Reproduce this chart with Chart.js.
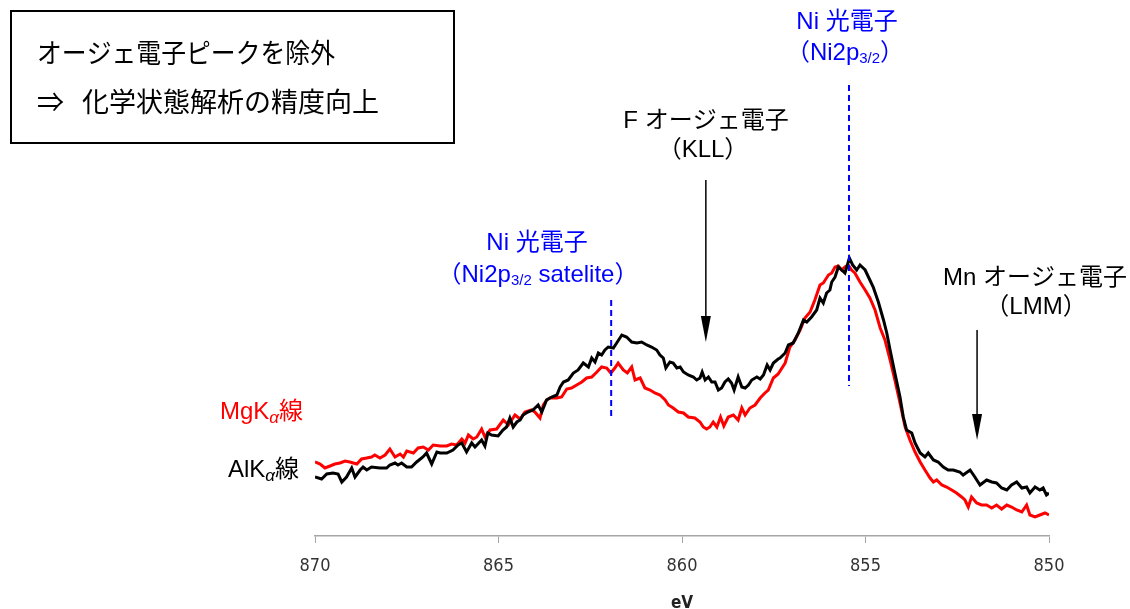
<!DOCTYPE html>
<html>
<head>
<meta charset="utf-8">
<script src="https://cdn.jsdelivr.net/npm/chart.js@4"></script>
<style>
  html, body { margin: 0; padding: 0; background: #fff; }
  #wrap { width: 1130px; height: 609px; }
</style>
</head>
<body>
<div id="wrap"><canvas id="myChart" width="1130" height="609"></canvas></div>
<script>
// spectra (binding energy eV / intensity a.u.)
const alkEnergy = [870.00, 869.82, 869.68, 869.51, 869.37, 869.27, 869.14, 869.00, 868.91, 868.77, 868.69, 868.59, 868.46, 868.23, 868.05, 867.96, 867.82, 867.74, 867.64, 867.50, 867.37, 867.23, 867.06, 866.96, 866.82, 866.68, 866.59, 866.41, 866.24, 866.10, 866.00, 865.87, 865.73, 865.64, 865.46, 865.37, 865.29, 865.19, 865.01, 864.88, 864.78, 864.69, 864.60, 864.50, 864.41, 864.33, 864.20, 864.06, 863.92, 863.82, 863.69, 863.55, 863.41, 863.32, 863.23, 863.10, 862.96, 862.83, 862.69, 862.55, 862.46, 862.37, 862.28, 862.19, 862.10, 862.01, 861.87, 861.78, 861.64, 861.51, 861.37, 861.23, 861.10, 860.96, 860.83, 860.69, 860.60, 860.51, 860.44, 860.33, 860.24, 860.14, 860.05, 859.96, 859.83, 859.69, 859.60, 859.51, 859.45, 859.37, 859.28, 859.19, 859.10, 859.01, 858.92, 858.83, 858.74, 858.65, 858.58, 858.47, 858.37, 858.28, 858.19, 858.10, 857.96, 857.87, 857.78, 857.68, 857.60, 857.51, 857.38, 857.33, 857.19, 857.10, 856.97, 856.83, 856.69, 856.60, 856.47, 856.33, 856.24, 856.15, 856.06, 855.97, 855.92, 855.83, 855.74, 855.65, 855.56, 855.51, 855.44, 855.35, 855.24, 855.15, 855.01, 854.92, 854.79, 854.65, 854.51, 854.42, 854.33, 854.20, 854.06, 853.97, 853.88, 853.74, 853.65, 853.51, 853.38, 853.29, 853.15, 853.02, 852.88, 852.75, 852.61, 852.43, 852.34, 852.15, 852.02, 851.88, 851.70, 851.56, 851.43, 851.29, 851.15, 851.02, 850.88, 850.74, 850.61, 850.52, 850.38, 850.25, 850.16, 850.07, 850.00];
const alkCounts = [59, 57, 62, 63, 62, 54, 59, 68, 59, 66, 69, 66, 69, 68, 68, 71, 73, 71, 73, 69, 69, 74, 79, 83, 72, 84, 83, 83, 86, 91, 93, 84, 93, 89, 96, 90, 103, 101, 100, 106, 109, 118, 109, 114, 116, 121, 124, 126, 131, 124, 136, 139, 141, 149, 154, 156, 163, 166, 173, 169, 178, 174, 183, 181, 186, 189, 188, 193, 201, 199, 194, 193, 194, 191, 189, 186, 181, 178, 168, 174, 173, 168, 169, 164, 161, 159, 156, 158, 164, 156, 159, 154, 154, 146, 148, 154, 157, 153, 146, 159, 149, 148, 151, 156, 159, 157, 161, 171, 166, 173, 177, 178, 183, 191, 193, 203, 216, 214, 219, 226, 238, 233, 243, 246, 254, 259, 269, 266, 263, 269, 278, 271, 266, 271, 266, 259, 249, 234, 216, 203, 186, 163, 139, 119, 106, 103, 93, 83, 79, 83, 76, 74, 69, 66, 66, 64, 61, 66, 59, 51, 56, 54, 53, 48, 46, 51, 54, 48, 49, 43, 49, 46, 48, 41, 43];

const mgkEnergy = [870.00, 869.86, 869.73, 869.59, 869.46, 869.32, 869.18, 869.05, 868.86, 868.73, 868.59, 868.46, 868.37, 868.23, 868.09, 867.96, 867.82, 867.68, 867.59, 867.50, 867.32, 867.19, 867.05, 866.91, 866.78, 866.59, 866.41, 866.28, 866.14, 866.00, 865.91, 865.82, 865.69, 865.59, 865.46, 865.37, 865.23, 865.05, 864.87, 864.73, 864.55, 864.41, 864.28, 864.10, 864.01, 863.87, 863.78, 863.69, 863.60, 863.41, 863.28, 863.14, 863.01, 862.87, 862.73, 862.60, 862.46, 862.32, 862.19, 862.05, 861.94, 861.83, 861.74, 861.60, 861.49, 861.37, 861.28, 861.14, 861.01, 860.87, 860.74, 860.60, 860.46, 860.37, 860.24, 860.10, 859.96, 859.83, 859.65, 859.51, 859.42, 859.33, 859.24, 859.15, 859.05, 858.95, 858.86, 858.74, 858.60, 858.47, 858.37, 858.28, 858.15, 858.01, 857.87, 857.74, 857.65, 857.51, 857.38, 857.19, 857.06, 856.92, 856.78, 856.65, 856.51, 856.38, 856.24, 856.15, 856.01, 855.92, 855.83, 855.74, 855.65, 855.56, 855.47, 855.38, 855.29, 855.15, 855.01, 854.88, 854.74, 854.60, 854.47, 854.33, 854.20, 854.06, 853.92, 853.79, 853.65, 853.51, 853.38, 853.24, 853.15, 853.06, 852.92, 852.79, 852.65, 852.52, 852.38, 852.29, 852.20, 852.11, 851.97, 851.84, 851.70, 851.56, 851.43, 851.29, 851.15, 851.02, 850.88, 850.74, 850.61, 850.52, 850.38, 850.25, 850.11, 850.00];
const mgkCounts = [74, 72, 68, 70, 72, 73, 75, 74, 72, 77, 78, 79, 81, 78, 81, 87, 79, 82, 79, 85, 83, 88, 89, 86, 91, 90, 90, 92, 91, 97, 93, 101, 97, 99, 107, 99, 106, 107, 116, 111, 121, 117, 124, 126, 124, 118, 131, 136, 138, 138, 139, 147, 148, 151, 154, 158, 159, 164, 169, 168, 163, 168, 173, 166, 163, 169, 156, 158, 148, 146, 143, 141, 136, 131, 128, 124, 123, 119, 118, 114, 109, 107, 109, 114, 109, 119, 110, 119, 121, 116, 128, 121, 128, 131, 138, 143, 146, 158, 162, 173, 189, 196, 206, 218, 224, 236, 251, 253, 261, 263, 269, 270, 266, 269, 271, 266, 263, 254, 246, 238, 226, 208, 196, 176, 156, 133, 109, 96, 84, 74, 66, 58, 54, 56, 51, 49, 46, 43, 39, 36, 29, 39, 33, 31, 31, 28, 31, 27, 31, 29, 26, 24, 31, 21, 19, 21, 23, 21];

const xTicks = [870, 865, 860, 855, 850];
// peak positions marked in the picture (eV)
const niMainE = 855.45;
const niSatE = 861.93;
const fAugerE = 859.35;
const mnAugerE = 851.96;

const latin = '"Liberation Sans", Arial, "Noto Sans CJK JP", sans-serif';
const jp = '"Noto Sans CJK JP", "Liberation Sans", sans-serif';
const narrow = '"Liberation Sans Narrow", "DejaVu Sans Condensed", "Liberation Sans", sans-serif';

function toXY(es, cs) {
    return es.map((e, i) => ({ x: e, y: cs[i] }));
}

// draws text made of pieces [text, size, dy, italic]
function richText(ctx, parts, x, y, color, align) {
    ctx.fillStyle = color;
    ctx.textBaseline = 'middle';
    ctx.textAlign = 'left';
    let total = 0;
    parts.forEach(p => {
        ctx.font = (p[3] ? 'italic ' : '') + p[1] + 'px ' + latin;
        total += ctx.measureText(p[0]).width;
    });
    let cx = align === 'center' ? x - total / 2 : x;
    parts.forEach(p => {
        ctx.font = (p[3] ? 'italic ' : '') + p[1] + 'px ' + latin;
        ctx.fillText(p[0], cx, y + (p[2] || 0));
        cx += ctx.measureText(p[0]).width;
    });
}

function arrowDown(ctx, x, y1, y2) {
    ctx.save();
    ctx.strokeStyle = '#000';
    ctx.fillStyle = '#000';
    ctx.lineWidth = 1.5;
    ctx.beginPath();
    ctx.moveTo(x, y1);
    ctx.lineTo(x, y2 - 20);
    ctx.stroke();
    ctx.beginPath();
    ctx.moveTo(x - 5, y2 - 26);
    ctx.lineTo(x + 5, y2 - 26);
    ctx.lineTo(x, y2);
    ctx.closePath();
    ctx.fill();
    ctx.restore();
}

function dashV(ctx, x, y1, y2) {
    ctx.save();
    ctx.strokeStyle = '#0000ff';
    ctx.lineWidth = 2;
    ctx.setLineDash([6, 4]);
    ctx.beginPath();
    ctx.moveTo(x, y1);
    ctx.lineTo(x, y2);
    ctx.stroke();
    ctx.restore();
}

const notes = {
    id: 'notes',
    afterDraw(chart) {
        const ctx = chart.ctx;
        const xs = chart.scales.x;
        ctx.save();

        // box
        ctx.strokeStyle = '#000';
        ctx.lineWidth = 2;
        ctx.strokeRect(11, 11, 443, 132);
        ctx.fillStyle = '#000';
        ctx.textBaseline = 'middle';
        ctx.textAlign = 'left';
        ctx.font = '27px ' + jp;
        ctx.fillText('オージェ電子ピークを除外', 37, 53, 298);
        ctx.fillText('⇒', 37, 102);
        ctx.fillText('化学状態解析の精度向上', 82, 102, 301);

        // dashed markers
        dashV(ctx, xs.getPixelForValue(niMainE), 85, 386);
        dashV(ctx, xs.getPixelForValue(niSatE), 300, 416);

        // arrows
        arrowDown(ctx, xs.getPixelForValue(fAugerE), 180, 342);
        arrowDown(ctx, xs.getPixelForValue(mnAugerE), 330, 440);

        const blue = '#0000ff';
        richText(ctx, [['Ni ', 24], ['光電子', 24]], 847, 22, blue, 'center');
        richText(ctx, [['（', 24], ['Ni2p', 24], ['3/2', 15, 6], ['）', 24]], 845, 53, blue, 'center');

        richText(ctx, [['F ', 24], ['オージェ電子', 24]], 706, 121, '#000', 'center');
        richText(ctx, [['（', 24], ['KLL', 24], ['）', 24]], 703, 150, '#000', 'center');

        richText(ctx, [['Ni ', 24], ['光電子', 24]], 537, 243, blue, 'center');
        richText(ctx, [['（', 24], ['Ni2p', 24], ['3/2', 15, 6], [' satelite', 24], ['）', 24]], 538, 275, blue, 'center');

        richText(ctx, [['Mn ', 24], ['オージェ電子', 24]], 1035, 278, '#000', 'center');
        richText(ctx, [['（', 24], ['LMM', 24], ['）', 24]], 1036, 307, '#000', 'center');

        richText(ctx, [['MgK', 24], ['α', 17, 6, true], ['線', 24]], 220, 412, '#ff0000', 'left');
        richText(ctx, [['AlK', 24], ['α', 17, 6, true], ['線', 24]], 228, 470, '#000', 'left');

        ctx.restore();
    }
};

const ctx = document.getElementById('myChart');
new Chart(ctx, {
    type: 'scatter',
    data: {
        datasets: [{
            label: 'AlKα',
            data: toXY(alkEnergy, alkCounts),
            showLine: true,
            borderColor: '#000000',
            borderWidth: 3,
            pointRadius: 0,
            tension: 0
        }, {
            label: 'MgKα',
            data: toXY(mgkEnergy, mgkCounts),
            showLine: true,
            borderColor: '#ff0000',
            borderWidth: 3,
            pointRadius: 0,
            tension: 0
        }]
    },
    options: {
        responsive: false,
        animation: false,
        layout: { padding: { left: 315, right: 81, top: 36, bottom: -5 } },
        plugins: { legend: { display: false }, tooltip: { enabled: false } },
        scales: {
            x: {
                type: 'linear',
                min: 850,
                max: 870,
                reverse: true,
                afterBuildTicks: axis => { axis.ticks = xTicks.map(v => ({ value: v })); },
                ticks: {
                    color: '#333',
                    padding: 13,
                    font: { size: 18, family: narrow }
                },
                grid: { drawOnChartArea: false, tickLength: 7, color: '#a6a6a6' },
                border: { color: '#a6a6a6', width: 1.5 },
                title: {
                    display: true,
                    text: 'eV',
                    color: '#222',
                    padding: { top: 3, bottom: 0 },
                    font: { size: 17, weight: 'bold', family: narrow }
                }
            },
            y: { display: false, min: 0, max: 500 }
        }
    },
    plugins: [notes]
});
</script>
</body>
</html>
